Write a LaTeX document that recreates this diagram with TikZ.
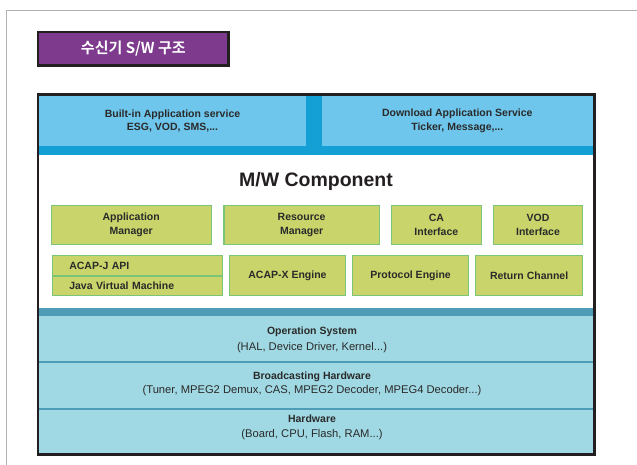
\documentclass[tikz,border=0pt]{standalone}
\usepackage{fontspec}
\usepackage{xcolor}
\setmainfont{Liberation Sans}
\newfontfamily\krfont{Noto Sans CJK KR}[BoldFont={Noto Sans CJK KR Bold}]
\usetikzlibrary{positioning}

\definecolor{titlepurple}{HTML}{7E3A8C}
\definecolor{edgedark}{HTML}{231F20}
\definecolor{svclight}{HTML}{6EC6EC}
\definecolor{svcdark}{HTML}{14A0D4}
\definecolor{osdark}{HTML}{4E9CB6}
\definecolor{oslight}{HTML}{A0D9E3}
\definecolor{mwfill}{HTML}{C9D56A}
\definecolor{mwedge}{HTML}{7CC477}
\definecolor{txt}{HTML}{2A2A2A}

\tikzstyle{titlebox} = [rectangle, draw=edgedark, line width=2.4pt, fill=titlepurple, text=white, inner sep=0pt, minimum width=190.5pt, minimum height=33.5pt, font=\krfont\bfseries\fontsize{15}{17}\selectfont]
\tikzstyle{svc} = [rectangle, fill=svclight, inner sep=0pt, align=center, minimum height=49.7pt, text=txt, font=\bfseries\fontsize{10.5}{13.4}\selectfont]
\tikzstyle{mw} = [rectangle, draw=mwedge, line width=1.2pt, fill=mwfill, inner sep=0pt, align=center, text=txt, font=\bfseries\fontsize{10.5}{14}\selectfont]
\tikzstyle{mwleft} = [mw, inner xsep=17pt, text width=135.8pt, align=left]
\tikzstyle{layertext} = [inner sep=0pt, align=center, text=txt, font=\fontsize{11.2}{12.5}\selectfont]

\begin{document}
\begin{tikzpicture}[x=1pt,y=-1pt]
  \useasboundingbox (0,0) rectangle (637,465);
  \draw[black!30, line width=0.9pt] (6.7,465) -- (6.7,10.5) -- (637,10.5);

  % title
  \node[titlebox] (title) at (133.3,48.7) {수신기 S/W 구조};

  % application services
  \fill[svcdark] (39,96) rectangle (593,155);
  \node[svc, minimum width=267pt] (builtin) at (172.5,120.9) {Built-in Application service\\ESG, VOD, SMS,...};
  \node[svc, minimum width=271.3pt] (download) at (457.3,120.9) {Download Application Service\\Ticker, Message,...};

  % middleware
  \node[font=\bfseries\fontsize{19.5}{21}\selectfont, text=edgedark] (mwtitle) at (316,181.7) {M/W Component};

  \node[mw, minimum width=159.8pt, minimum height=38.8pt] (appmgr) at (131.2,225) {Application\\Manager};
  \node[mw, minimum width=155.5pt, minimum height=38.8pt] (resmgr) [right=11.6pt of appmgr] {Resource\\Manager};
  \node[mw, minimum width=89.5pt, minimum height=38.8pt] (caif) [right=11pt of resmgr] {CA\\Interface};
  \node[mw, minimum width=89.4pt, minimum height=38.8pt] (vodif) [right=11pt of caif] {VOD\\Interface};

  \node[mwleft, minimum height=20.4pt] (acapj) at (137.2,265.8) {ACAP-J API};
  \node[mwleft, minimum height=19.4pt] (jvm) [below=-1.2pt of acapj] {Java Virtual Machine};
  \node[mw, minimum width=115.8pt, minimum height=39.8pt] (acapx) [right=6.3pt of acapj.south east, yshift=1pt] {ACAP-X Engine};
  \node[mw, minimum width=116.4pt, minimum height=39.8pt] (proto) [right=5.7pt of acapx] {Protocol Engine};
  \node[mw, minimum width=107.1pt, minimum height=39.8pt] (retch) [right=5.7pt of proto] {Return Channel};

  % system layers
  \fill[osdark] (39,308.3) rectangle (593,315.7);
  \fill[oslight] (39,315.7) rectangle (593,454);
  \draw[osdark, line width=2pt] (39,362) -- (593,362);
  \draw[osdark, line width=2pt] (39,409) -- (593,409);

  \node[layertext] (os) at (312,340) {\textbf{\fontsize{10.5}{12.5}\selectfont Operation System}\\[4pt](HAL, Device Driver, Kernel...)};
  \node[layertext] (bcast) at (312,384) {\textbf{\fontsize{10.5}{12.5}\selectfont Broadcasting Hardware}\\[1pt](Tuner, MPEG2 Demux, CAS, MPEG2 Decoder, MPEG4 Decoder...)};
  \node[layertext] (hw) at (312,427.5) {\textbf{\fontsize{10.5}{12.5}\selectfont Hardware}\\[2.5pt](Board, CPU, Flash, RAM...)};

  \draw[edgedark, line width=2.6pt] (38,94.6) rectangle (594.4,454.7);
\end{tikzpicture}
\end{document}
